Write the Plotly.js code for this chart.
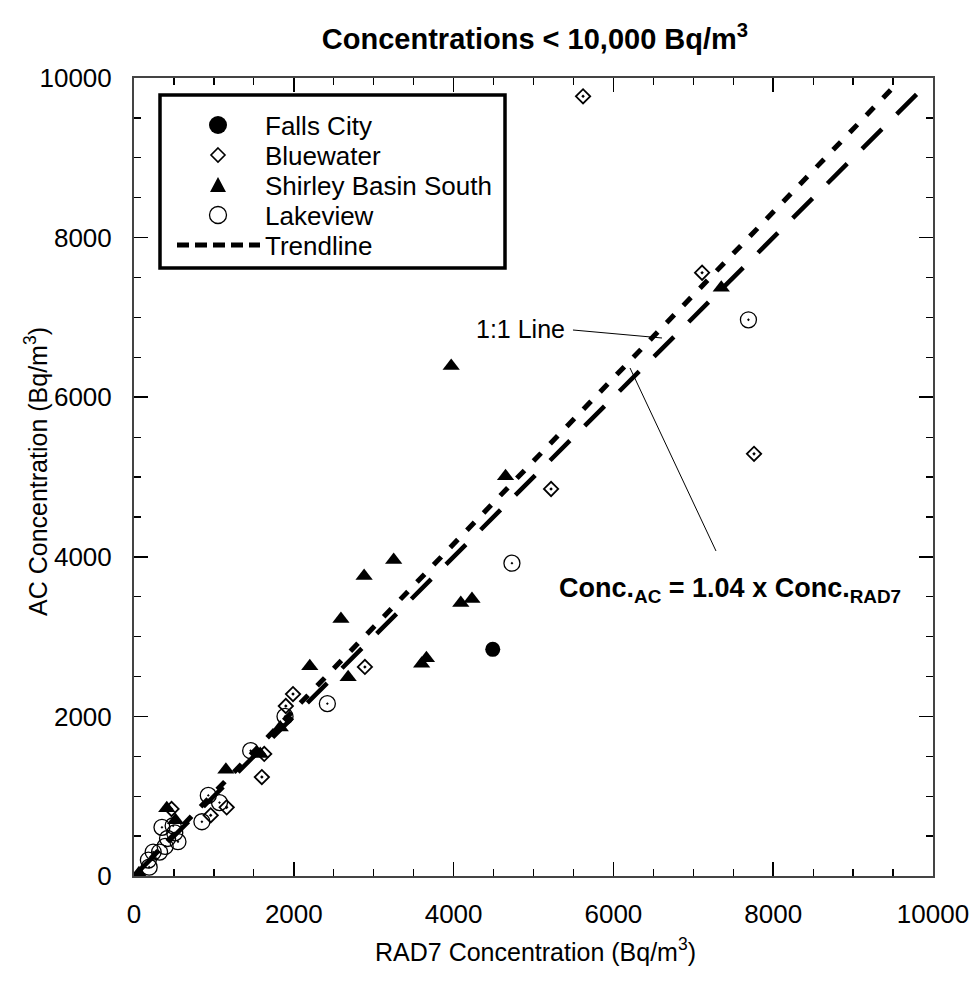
<!DOCTYPE html>
<html>
<head>
<meta charset="utf-8">
<script src="https://cdn.plot.ly/plotly-3.0.1.min.js"></script>
<style>
  html, body { margin: 0; padding: 0; background: #fff; }
  #chart { width: 974px; height: 987px; }
</style>
</head>
<body>
<div id="chart"></div>
<script>
// ---- data ----
const fallsCityX = [4490];
const fallsCityY = [2840];

const bluewaterX = [5620, 7110, 7760, 5220, 2890, 1990, 1900, 1630, 1600, 1160, 960, 470];
const bluewaterY = [9770, 7560, 5290, 4850, 2620, 2280, 2130, 1530, 1240, 860, 760, 840];

const shirleyX = [3970, 7350, 4650, 3250, 2880, 2590, 4090, 4230, 3600, 3660, 2680, 2200, 1830, 1580, 1150, 410, 520, 60];
const shirleyY = [6390, 7370, 5010, 3960, 3760, 3220, 3420, 3470, 2660, 2730, 2490, 2630, 1860, 1530, 1330, 850, 700, 30];

const lakeviewX = [7690, 4730, 2420, 1890, 1460, 930, 1070, 850, 550, 510, 490, 350, 390, 320, 240, 180, 190, 420];
const lakeviewY = [6970, 3920, 2160, 2000, 1570, 1010, 920, 680, 430, 540, 630, 610, 370, 300, 300, 200, 110, 470];

const trendSlope = 1.04;
const trendX = [0, 9500];
const oneToOneX = [0, 9800];

const tickVals = [0, 2000, 4000, 6000, 8000, 10000];
const tickText = ['0', '2000', '4000', '6000', '8000', '10000'];

const legendNames = ['Falls City', 'Bluewater', 'Shirley Basin South', 'Lakeview', 'Trendline'];

// ---- styling ----
const FONT = 'Liberation Sans, Arial, Helvetica, sans-serif';
const W = 974, H = 987;
const M = { l: 134, r: 41, t: 78, b: 111 };
const PW = W - M.l - M.r, PH = H - M.t - M.b;
const px2x = p => (p - M.l) / PW;       // page pixel -> paper x
const py2y = p => (H - M.b - p) / PH;   // page pixel -> paper y

const TREND_DASH = '11px,13px';
const ONE_DASH = '28px,21px';

const traces = [
  { x: fallsCityX, y: fallsCityY, type: 'scatter', mode: 'markers', name: legendNames[0],
    marker: { symbol: 'circle', size: 15, color: '#000' } },
  { x: bluewaterX, y: bluewaterY, type: 'scatter', mode: 'markers', name: legendNames[1],
    marker: { symbol: 'diamond-open-dot', size: 11, color: '#000', line: { width: 1.8, color: '#000' } } },
  { x: shirleyX, y: shirleyY, type: 'scatter', mode: 'markers', name: legendNames[2],
    marker: { symbol: 'triangle-up', size: 15, color: '#000' } },
  { x: lakeviewX, y: lakeviewY, type: 'scatter', mode: 'markers', name: legendNames[3],
    marker: { symbol: 'circle-open-dot', size: 16, color: '#000', line: { width: 1.3, color: '#000' } } },
  { x: oneToOneX, y: oneToOneX, type: 'scatter', mode: 'lines', name: '1:1 Line',
    line: { color: '#000', width: 4.5, dash: ONE_DASH } },
  { x: trendX, y: trendX.map(v => v * trendSlope), type: 'scatter', mode: 'lines', name: legendNames[4],
    line: { color: '#000', width: 5, dash: TREND_DASH } }
];

const axisCommon = {
  range: [0, 10000],
  tickvals: tickVals,
  ticktext: tickText,
  ticks: 'inside',
  ticklen: 14,
  tickwidth: 1.5,
  tickcolor: '#000',
  minor: { dtick: 500, ticks: 'inside', ticklen: 7, tickwidth: 1.2, tickcolor: '#000' },
  showline: true,
  linecolor: '#444',
  linewidth: 2,
  mirror: 'allticks',
  showgrid: false,
  zeroline: false,
  automargin: false,
  tickfont: { family: FONT, size: 26, color: '#000' }
};

// ---- manual legend (box, symbols, labels) ----
const legRowsPx = [125, 155, 185, 215, 245];
const legSymX = px2x(218);
const legTextX = px2x(263);
const shapes = [
  { type: 'rect', xref: 'paper', yref: 'paper', x0: px2x(160), x1: px2x(505), y0: py2y(268), y1: py2y(95),
    line: { color: '#000', width: 3.5 }, fillcolor: '#fff', layer: 'above' },
  // Falls City symbol
  { type: 'circle', xref: 'paper', yref: 'paper', xsizemode: 'pixel', ysizemode: 'pixel',
    xanchor: legSymX, yanchor: py2y(legRowsPx[0]), x0: -9, x1: 9, y0: -9, y1: 9,
    fillcolor: '#000', line: { color: '#000', width: 0 }, layer: 'above' },
  // Bluewater symbol
  { type: 'path', xref: 'paper', yref: 'paper', xsizemode: 'pixel', ysizemode: 'pixel',
    xanchor: legSymX, yanchor: py2y(legRowsPx[1]), path: 'M0,7 L7,0 L0,-7 L-7,0 Z',
    fillcolor: 'rgba(0,0,0,0)', line: { color: '#000', width: 1.6 }, layer: 'above' },
  // Shirley Basin South symbol
  { type: 'path', xref: 'paper', yref: 'paper', xsizemode: 'pixel', ysizemode: 'pixel',
    xanchor: legSymX, yanchor: py2y(legRowsPx[2]), path: 'M-8,-7 L8,-7 L0,8 Z',
    fillcolor: '#000', line: { color: '#000', width: 0 }, layer: 'above' },
  // Lakeview symbol
  { type: 'circle', xref: 'paper', yref: 'paper', xsizemode: 'pixel', ysizemode: 'pixel',
    xanchor: legSymX, yanchor: py2y(legRowsPx[3]), x0: -8.5, x1: 8.5, y0: -8.5, y1: 8.5,
    fillcolor: 'rgba(0,0,0,0)', line: { color: '#000', width: 1.3 }, layer: 'above' },
  // Trendline symbol
  { type: 'line', xref: 'paper', yref: 'paper', x0: px2x(177), x1: px2x(260), y0: py2y(legRowsPx[4]), y1: py2y(legRowsPx[4]),
    line: { color: '#000', width: 5, dash: '12px,6px' }, layer: 'above' },
  // annotation pointer lines
  { type: 'line', xref: 'x', yref: 'y', x0: 5494, y0: 6842, x1: 6608, y1: 6742, line: { color: '#000', width: 1 } },
  { type: 'line', xref: 'x', yref: 'y', x0: 6208, y0: 6366, x1: 7284, y1: 4073, line: { color: '#000', width: 1 } }
];

const annotations = legendNames.map((n, i) => ({
  xref: 'paper', yref: 'paper', x: legTextX, y: py2y(legRowsPx[i] + 1), xanchor: 'left', yanchor: 'middle',
  showarrow: false, text: n, font: { family: FONT, size: 26, color: '#000' }
}));
annotations.push(
  { xref: 'x', yref: 'y', x: 5420, y: 6850, xanchor: 'right', yanchor: 'middle', showarrow: false,
    text: '1:1 Line', font: { family: FONT, size: 25, color: '#000' } },
  { xref: 'x', yref: 'y', x: 5300, y: 3580, xanchor: 'left', yanchor: 'middle', showarrow: false,
    text: '<b>Conc.<sub>AC</sub> = 1.04 x Conc.<sub>RAD7</sub></b>', font: { family: FONT, size: 27, color: '#000' } },
  // axis titles
  { xref: 'paper', yref: 'paper', x: px2x(535), y: py2y(950), xanchor: 'center', yanchor: 'middle', showarrow: false,
    text: 'RAD7 Concentration (Bq/m<sup>3</sup>)', font: { family: FONT, size: 25, color: '#000' } },
  { xref: 'paper', yref: 'paper', x: px2x(36), y: py2y(472), xanchor: 'center', yanchor: 'middle', showarrow: false,
    textangle: -90, text: 'AC Concentration (Bq/m<sup>3</sup>)', font: { family: FONT, size: 25, color: '#000' } }
);

const layout = {
  width: W,
  height: H,
  margin: M,
  paper_bgcolor: '#fff',
  plot_bgcolor: '#fff',
  showlegend: false,
  font: { family: FONT, color: '#000' },
  title: {
    text: '<b>Concentrations < 10,000 Bq/m<sup>3</sup></b>',
    font: { family: FONT, size: 29, color: '#000' },
    x: 535 / W, xanchor: 'center', y: 1 - 39 / H, yanchor: 'middle'
  },
  xaxis: Object.assign({}, axisCommon, { ticklabelstandoff: 14 }),
  yaxis: Object.assign({}, axisCommon, { ticklabelstandoff: 15 }),
  shapes: shapes,
  annotations: annotations
};

Plotly.newPlot('chart', traces, layout, { displayModeBar: false, staticPlot: true });
</script>
</body>
</html>
